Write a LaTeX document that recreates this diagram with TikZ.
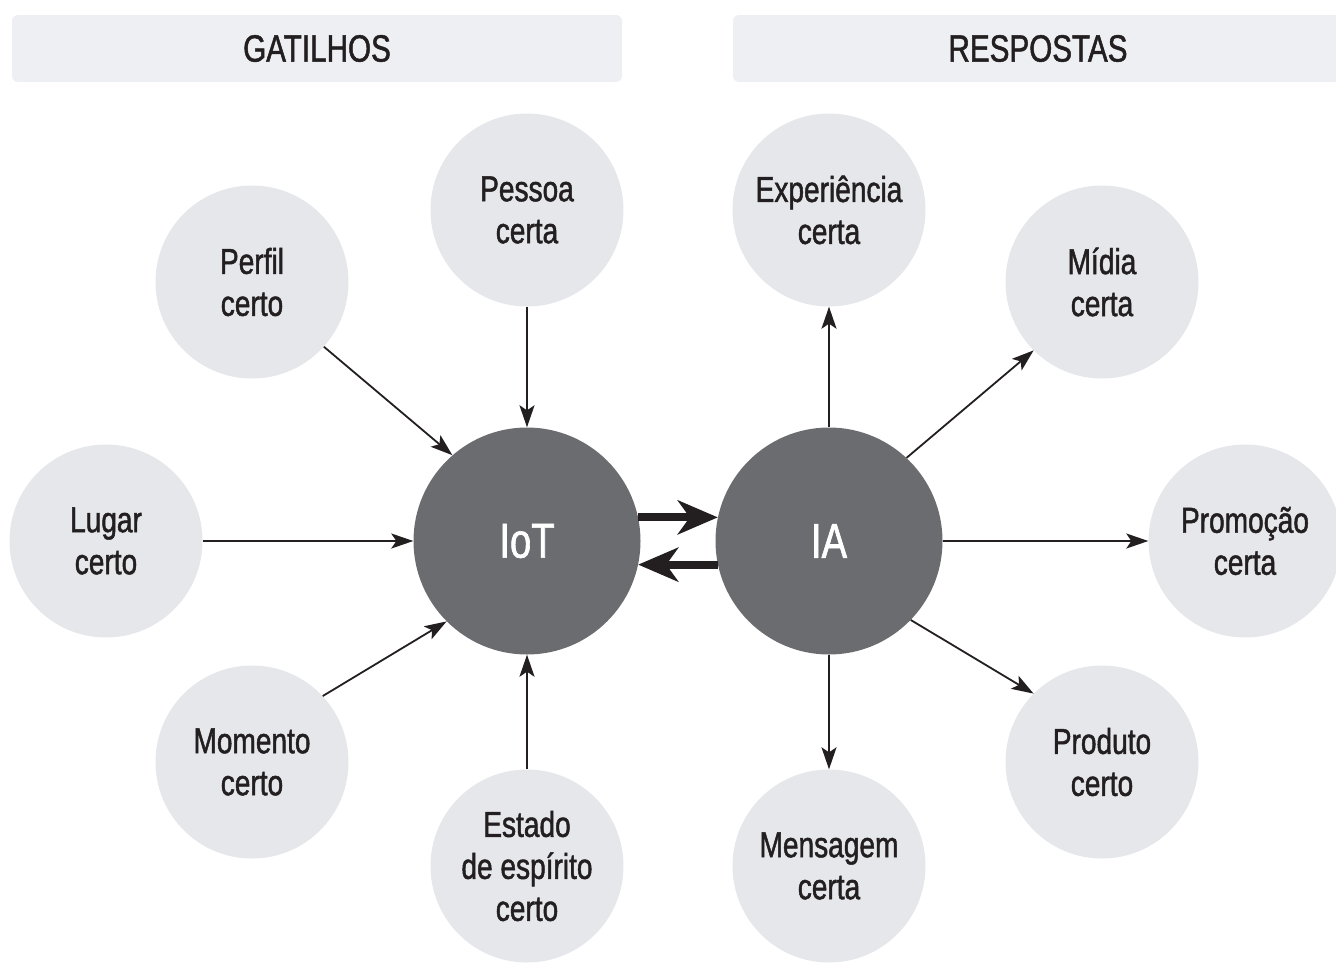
\documentclass[tikz,border=0pt]{standalone}
\usepackage{fontspec}
\setmainfont{Liberation Sans}[FakeStretch=0.78,FakeBold=1.3]
\usetikzlibrary{arrows.meta}
\definecolor{circ}{HTML}{E5E7EB}
\definecolor{hub}{HTML}{6B6C70}
\definecolor{bar}{HTML}{EDEFF3}
\definecolor{ink}{HTML}{231F20}
\begin{document}
\begin{tikzpicture}[x=1pt,y=-1pt,
  leaf/.style={circle, fill=circ, minimum size=193pt, inner sep=0pt, align=center,
    font=\fontsize{36}{42}\selectfont, text=ink},
  hubnode/.style={circle, fill=hub, minimum size=227pt, inner sep=0pt, text=white,
    font=\fontsize{49}{55}\selectfont},
  headbar/.style={fill=bar, rounded corners=6pt, inner sep=0pt, text=ink,
    font=\fontsize{38}{44}\selectfont},
  conn/.style={draw=ink, line width=1.8pt, -{Stealth[length=22pt,width=15pt,inset=5pt]}},
  bigconn/.style={draw=ink, line width=8pt, -{Stealth[length=40pt,width=34pt,inset=12pt]}}
]
\useasboundingbox (0,0) rectangle (1336,962);
% headers
\node[headbar, minimum width=610pt, minimum height=67pt] (hg) at (317,48.5) {GATILHOS};
\node[headbar, minimum width=620pt, minimum height=67pt] (hr) at (1043,48.5) {};
\node[text=ink, font=\fontsize{38}{44}\selectfont] (hrt) at (1038,48.5) {RESPOSTAS};
% hubs
\node[hubnode] (iot) at (527,541) {IoT};
\node[hubnode] (ia) at (829,541) {IA};
% triggers
\node[leaf] (pessoa) at (527,210) {Pessoa\\certa};
\node[leaf] (perfil) at (252,282) {Perfil\\certo};
\node[leaf] (lugar) at (106,541) {Lugar\\certo};
\node[leaf] (momento) at (252,762) {Momento\\certo};
\node[leaf] (estado) at (527,866) {Estado\\de espírito\\certo};
% responses
\node[leaf] (exp) at (829,210) {Experiência\\certa};
\node[leaf] (midia) at (1102,282) {Mídia\\certa};
\node[leaf] (promo) at (1245,541) {Promoção\\certa};
\node[leaf] (produto) at (1102,762) {Produto\\certo};
\node[leaf] (msg) at (829,866) {Mensagem\\certa};
% connectors in
\draw[conn] (pessoa) -- (iot);
\draw[conn] (perfil.-42) -- (iot.131);
\draw[conn] (lugar) -- (iot);
\draw[conn] (momento.43) -- (iot.225);
\draw[conn] (estado) -- (iot);
% connectors out
\draw[conn] (ia) -- (exp);
\draw[conn] (ia.47) -- (midia.225);
\draw[conn] (ia) -- (promo);
\draw[conn] (ia.-44) -- (produto.135);
\draw[conn] (ia) -- (msg);
% big arrows
\draw[bigconn] (iot.12) -- (ia.168);
\draw[bigconn] (ia.192) -- (iot.-12);
\end{tikzpicture}
\end{document}
